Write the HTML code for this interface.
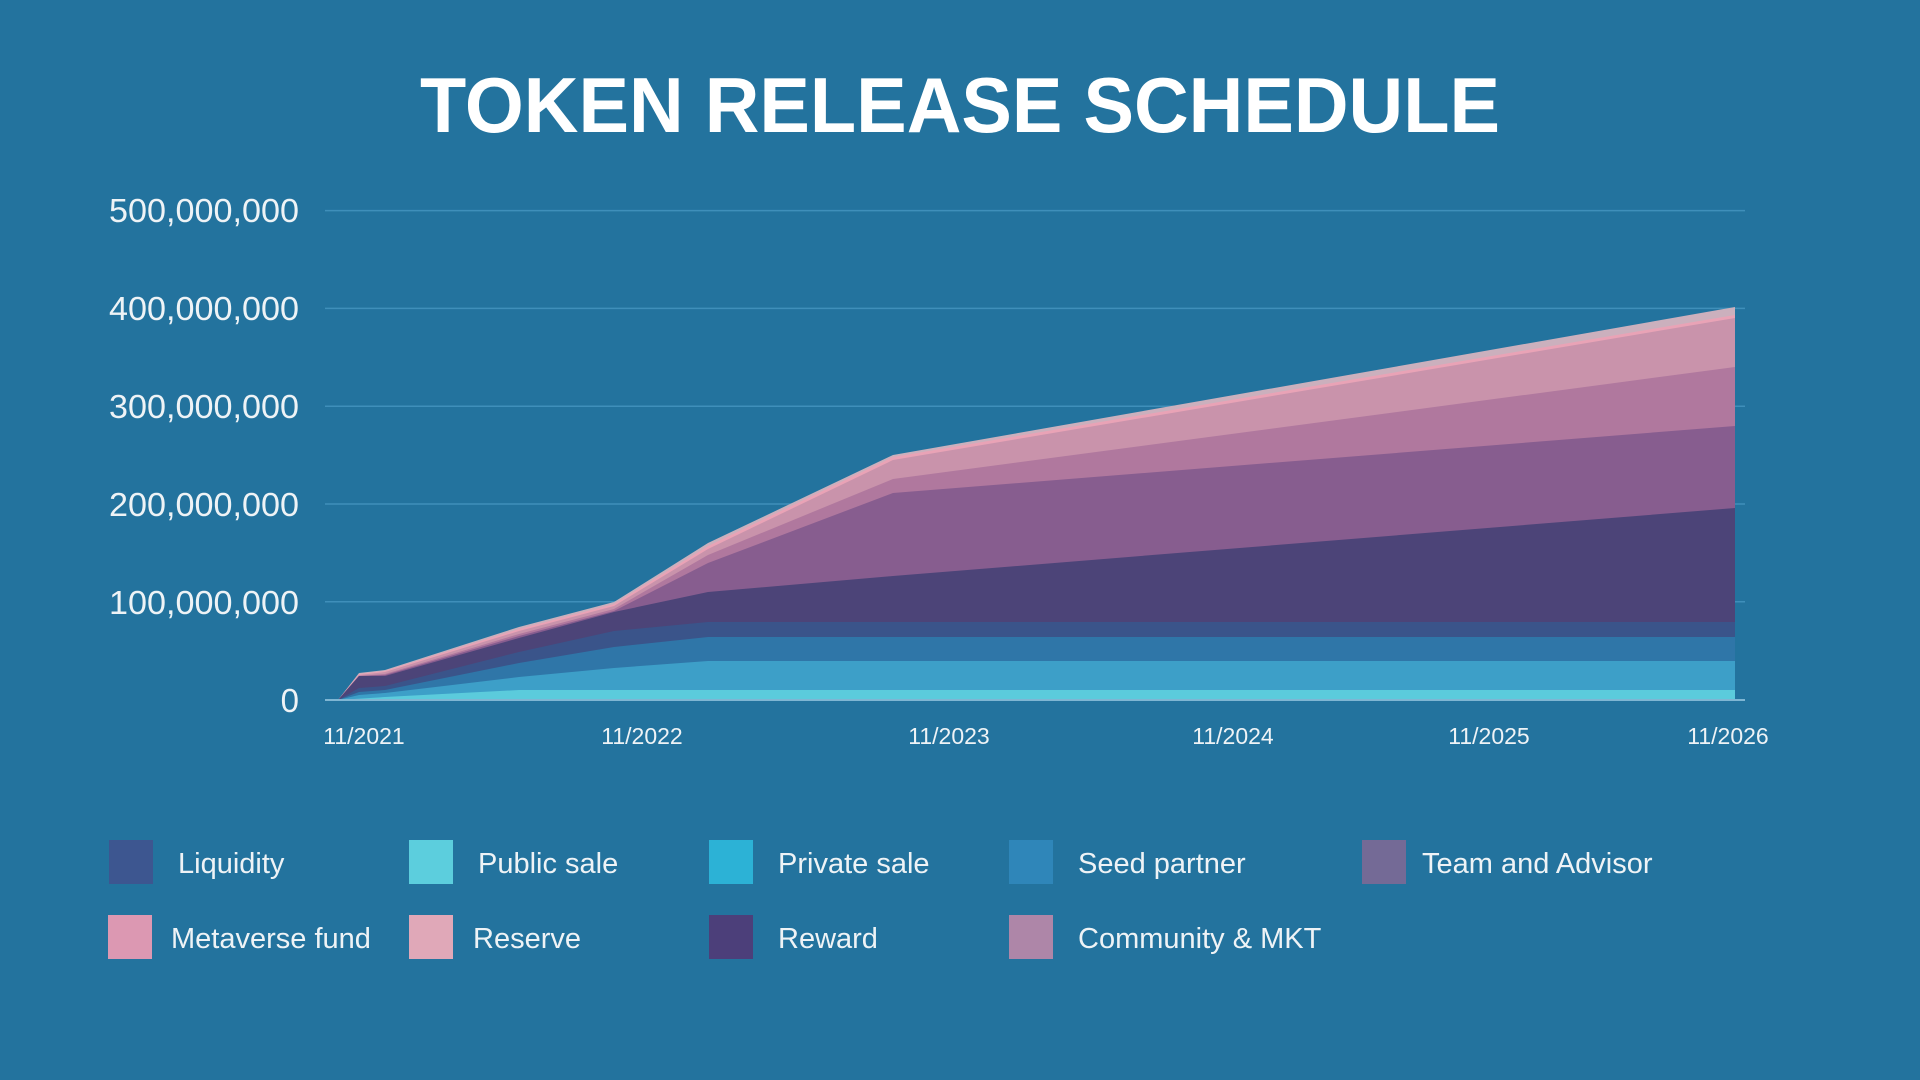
<!DOCTYPE html>
<html><head><meta charset="utf-8"><style>
html,body{margin:0;padding:0;background:#23739e;}
svg{display:block}
text{font-family:"Liberation Sans",sans-serif;fill:#eef3f6}
</style></head><body>
<svg width="1920" height="1080" viewBox="0 0 1920 1080">
<rect width="1920" height="1080" fill="#23739e"/>
<text x="960" y="132" text-anchor="middle" font-size="78" font-weight="bold" textLength="1080" lengthAdjust="spacingAndGlyphs" style="fill:#fff">TOKEN RELEASE SCHEDULE</text>
<g stroke="#3f8fba" stroke-width="1.5">
<line x1="325" y1="210.6" x2="1745" y2="210.6"/>
<line x1="325" y1="308.4" x2="1745" y2="308.4"/>
<line x1="325" y1="406.2" x2="1745" y2="406.2"/>
<line x1="325" y1="504" x2="1745" y2="504"/>
<line x1="325" y1="601.8" x2="1745" y2="601.8"/>
</g>
<g font-size="33" text-anchor="end">
<text x="299" y="222" textLength="190" lengthAdjust="spacingAndGlyphs">500,000,000</text>
<text x="299" y="320" textLength="190" lengthAdjust="spacingAndGlyphs">400,000,000</text>
<text x="299" y="418" textLength="190" lengthAdjust="spacingAndGlyphs">300,000,000</text>
<text x="299" y="516" textLength="190" lengthAdjust="spacingAndGlyphs">200,000,000</text>
<text x="299" y="614" textLength="190" lengthAdjust="spacingAndGlyphs">100,000,000</text>
<text x="299" y="712">0</text>
</g>
<polygon fill="#cbb0bd" points="338,700 359,673 385,670 519,627 614,602 708,543 893,455 1735,307 1735,700"/>
<polygon fill="#e9a3b6" points="338,700 359,674 385,671 519,629 614,604 708,546 893,457 1735,315 1735,700"/>
<polygon fill="#c993ab" points="338,700 359,675 385,672 519,631 614,606 708,549 893,460 1735,318 1735,700"/>
<polygon fill="#b0789e" points="338,700 359,676 385,674 519,634 614,609 708,555 893,479 1735,367 1735,700"/>
<polygon fill="#875d8f" points="338,700 359,676 385,675 519,636 614,611 708,563 893,493 1735,426 1735,700"/>
<polygon fill="#4c4478" points="338,700 359,676 385,676 519,638 614,612 708,592 893,576 1735,508 1735,700"/>
<polygon fill="#3a548a" points="338,700 359,688 385,686 519,652 614,631 708,622 1735,622 1735,700"/>
<polygon fill="#2f76a8" points="338,700 359,692 385,690 519,663 614,647 708,637 1735,637 1735,700"/>
<polygon fill="#3d9fc8" points="338,700 359,695 385,693 519,677 614,668 708,661 1735,661 1735,700"/>
<polygon fill="#5bcbdc" points="338,700 385,697 519,690 1735,690 1735,700"/>
<line x1="325" y1="700" x2="1745" y2="700" stroke="#7fb6d3" stroke-width="2"/>
<g font-size="23" text-anchor="middle">
<text x="364" y="744">11/2021</text>
<text x="642" y="744">11/2022</text>
<text x="949" y="744">11/2023</text>
<text x="1233" y="744">11/2024</text>
<text x="1489" y="744">11/2025</text>
<text x="1728" y="744">11/2026</text>
</g>
<g font-size="29">
<rect x="109" y="840" width="44" height="44" fill="#3d5690"/><text x="178" y="873">Liquidity</text>
<rect x="409" y="840" width="44" height="44" fill="#5ccedd"/><text x="478" y="873">Public sale</text>
<rect x="709" y="840" width="44" height="44" fill="#2cb2d6"/><text x="778" y="873">Private sale</text>
<rect x="1009" y="840" width="44" height="44" fill="#2f86b9"/><text x="1078" y="873">Seed partner</text>
<rect x="1362" y="840" width="44" height="44" fill="#746a96"/><text x="1422" y="873">Team and Advisor</text>
<rect x="108" y="915" width="44" height="44" fill="#dc98b2"/><text x="171" y="948">Metaverse fund</text>
<rect x="409" y="915" width="44" height="44" fill="#e0a8b8"/><text x="473" y="948">Reserve</text>
<rect x="709" y="915" width="44" height="44" fill="#4c3f7a"/><text x="778" y="948">Reward</text>
<rect x="1009" y="915" width="44" height="44" fill="#ae86a8"/><text x="1078" y="948">Community &amp; MKT</text>
</g>
</svg>
</body></html>
